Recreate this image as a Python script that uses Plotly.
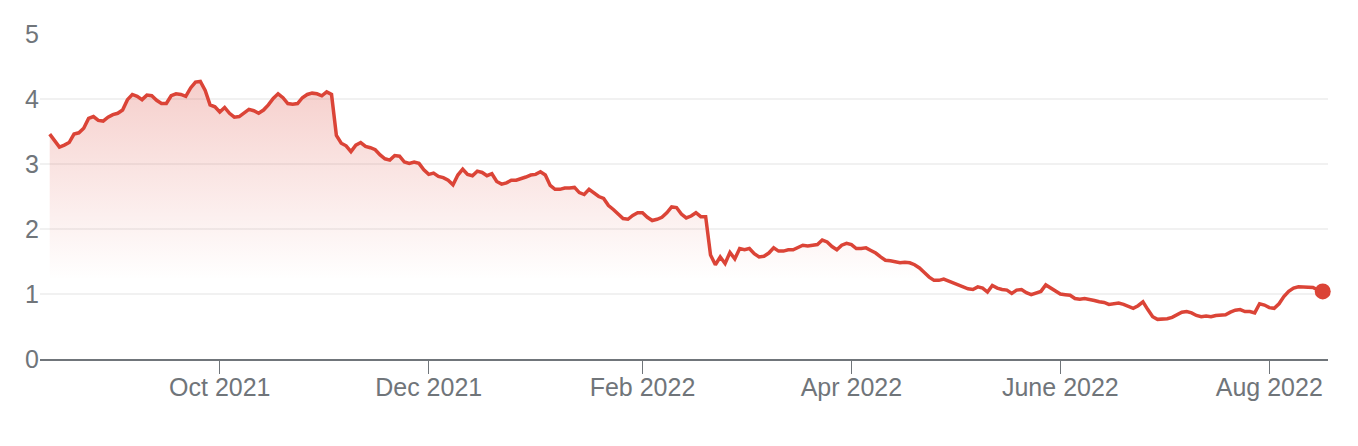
import pandas as pd
import plotly.graph_objects as go

# ---- data ----
start_date = "2021-08-13"   # first trading day shown (business days)
prices = [
    3.46, 3.37, 3.26, 3.29, 3.33, 3.46, 3.48, 3.55, 3.70, 3.73,
    3.67, 3.66, 3.72, 3.76, 3.78, 3.83, 3.99, 4.07, 4.04, 3.99,
    4.06, 4.05, 3.98, 3.93, 3.93, 4.05, 4.08, 4.07, 4.04, 4.17,
    4.26, 4.27, 4.13, 3.91, 3.88, 3.80, 3.87, 3.78, 3.72, 3.73,
    3.79, 3.84, 3.82, 3.78, 3.83, 3.91, 4.01, 4.08, 4.02, 3.93,
    3.92, 3.93, 4.02, 4.07, 4.09, 4.08, 4.05, 4.11, 4.07, 3.44,
    3.32, 3.28, 3.19, 3.29, 3.33, 3.27, 3.25, 3.22, 3.14, 3.08,
    3.06, 3.13, 3.12, 3.03, 3.01, 3.03, 3.01, 2.91, 2.84, 2.86,
    2.81, 2.79, 2.75, 2.68, 2.83, 2.92, 2.84, 2.82, 2.89, 2.87,
    2.82, 2.85, 2.73, 2.69, 2.71, 2.75, 2.75, 2.77, 2.80, 2.83,
    2.84, 2.88, 2.83, 2.67, 2.61, 2.61, 2.63, 2.63, 2.64, 2.56,
    2.53, 2.61, 2.56, 2.50, 2.47, 2.36, 2.30, 2.23, 2.16, 2.15,
    2.21, 2.25, 2.25, 2.18, 2.13, 2.15, 2.18, 2.25, 2.34, 2.33,
    2.23, 2.17, 2.20, 2.25, 2.19, 2.19, 1.60, 1.45, 1.57, 1.47,
    1.64, 1.54, 1.70, 1.68, 1.70, 1.62, 1.57, 1.58, 1.63, 1.71,
    1.66, 1.66, 1.68, 1.68, 1.71, 1.75, 1.74, 1.75, 1.76, 1.83,
    1.80, 1.73, 1.68, 1.75, 1.78, 1.76, 1.70, 1.70, 1.71, 1.67,
    1.63, 1.57, 1.52, 1.51, 1.50, 1.48, 1.49, 1.48, 1.45, 1.40,
    1.33, 1.26, 1.21, 1.21, 1.23, 1.20, 1.18, 1.14, 1.12, 1.08,
    1.07, 1.11, 1.09, 1.03, 1.13, 1.09, 1.07, 1.06, 1.01, 1.06,
    1.07, 1.02, 0.99, 1.02, 1.04, 1.14, 1.09, 1.04, 1.00, 0.99,
    0.98, 0.93, 0.92, 0.93, 0.92, 0.90, 0.88, 0.87, 0.84, 0.85,
    0.86, 0.84, 0.81, 0.78, 0.82, 0.88, 0.76, 0.65, 0.61, 0.61,
    0.62, 0.64, 0.68, 0.72, 0.73, 0.71, 0.67, 0.65, 0.66, 0.65,
    0.67, 0.68, 0.68, 0.72, 0.75, 0.76, 0.73, 0.73, 0.71, 0.85,
    0.83, 0.79, 0.78, 0.85, 0.96, 1.04, 1.09, 1.11, 1.11, 1.11,
    1.10, 1.06, 1.04,
]
tick_dates = ["2021-10-01", "2021-12-01", "2022-02-01",
              "2022-04-01", "2022-06-01", "2022-08-01"]
tick_labels = ["Oct 2021", "Dec 2021", "Feb 2022",
               "Apr 2022", "June 2022", "Aug 2022"]
y_ticks = [0, 1, 2, 3, 4, 5]

dates = pd.bdate_range(start=start_date, periods=len(prices))

RED = "#db4437"
GRAY = "#70757a"
FONT = "Liberation Sans, Arial, Helvetica, sans-serif"

fig = go.Figure()
fig.add_trace(go.Scatter(
    x=dates, y=prices, mode="lines",
    line=dict(color=RED, width=3.5),
    fill="tozeroy",
    fillgradient=dict(
        type="vertical",
        colorscale=[[0, "rgba(219,68,55,0)"], [1, "rgba(219,68,55,0.26)"]],
        start=1.25, stop=4.3,
    ),
    hoverinfo="skip",
    showlegend=False,
))
fig.add_trace(go.Scatter(
    x=[dates[-1]], y=[prices[-1]], mode="markers",
    marker=dict(color=RED, size=16),
    cliponaxis=False,
    hoverinfo="skip",
    showlegend=False,
))

# the page body adds an 8px offset; size the figure to fit inside the window
fig.update_layout(
    width=1350, height=438,
    margin=dict(l=32, r=30, t=23, b=87),
    paper_bgcolor="white", plot_bgcolor="white",
    font=dict(family=FONT, size=25, color=GRAY),
)
fig.update_xaxes(
    range=["2021-08-11", "2022-08-17 02:00"],
    rangebreaks=[dict(bounds=["sat", "mon"])],
    tickmode="array", tickvals=tick_dates, ticktext=tick_labels,
    showgrid=False, zeroline=False,
    showline=True, linecolor=GRAY, linewidth=2,
    ticks="outside", ticklen=13, tickwidth=1, tickcolor=GRAY,
    ticklabelstandoff=-8,
    tickfont=dict(family=FONT, size=25, color=GRAY),
)
fig.update_yaxes(
    range=[0, 5], tickmode="array", tickvals=y_ticks,
    showgrid=True, gridcolor="#f1f1f1", gridwidth=2,
    zeroline=False, showline=False, ticks="",
    tickfont=dict(family=FONT, size=25, color=GRAY),
)

fig.write_html("out.html")
